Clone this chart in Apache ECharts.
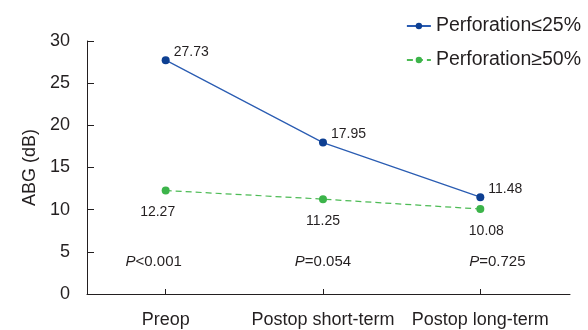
<!DOCTYPE html>
<html><head><meta charset="utf-8">
<script src="https://cdn.jsdelivr.net/npm/echarts@6/dist/echarts.min.js"></script>
<style>html,body{margin:0;padding:0;background:#fff}#c{width:588px;height:330px}</style>
</head><body><div id="c"></div>
<script>
const categories = ['Preop', 'Postop short-term', 'Postop long-term'];
const seriesNames = ['Perforation\u226425%', 'Perforation\u226550%'];
const small = [27.73, 17.95, 11.48];
const large = [12.27, 11.25, 10.08];
const pLabels = ['<0.001', '=0.054', '=0.725'];
const yTicks = [0, 5, 10, 15, 20, 25, 30];

const font = 'Liberation Sans, Arial, Helvetica, sans-serif';
const txt = '#231f20';
const chart = echarts.init(document.getElementById('c'));
const pOffsets = [-12, 0, 17];
const gOffsets = [-8, 0, 6];
chart.setOption({
  animation: false,
  textStyle: { fontFamily: font, color: txt },
  grid: { left: 87, right: 18, top: 41, bottom: 36 },
  legend: {
    orient: 'vertical', right: 2, top: 11, itemGap: 14,
    itemWidth: 24, itemHeight: 8,
    textStyle: { fontSize: 19.5, color: txt, fontFamily: font },
    data: seriesNames
  },
  xAxis: {
    type: 'value', min: -0.5, max: 2.57,
    splitLine: { show: false },
    axisLine: { onZero: false, lineStyle: { color: txt, width: 1 } },
    axisTick: { inside: true, length: 5, lineStyle: { color: txt }, customValues: [0, 1, 2] },
    axisLabel: { fontSize: 18, color: txt, margin: 17, customValues: [0, 1, 2],
      formatter: v => categories[Math.round(v)] || '' }
  },
  yAxis: {
    type: 'value', min: 0, max: 30, interval: 5,
    name: 'ABG (dB)', nameLocation: 'middle', nameGap: 46,
    nameTextStyle: { fontSize: 18, color: txt },
    splitLine: { show: false },
    axisLine: { show: true, onZero: false, lineStyle: { color: txt, width: 1 } },
    axisTick: { show: true, inside: true, length: 7, lineStyle: { color: txt } },
    axisLabel: { fontSize: 18, color: txt, margin: 17,
      formatter: v => yTicks.includes(v) ? String(v) : '' }
  },
  series: [
    {
      name: seriesNames[0], type: 'line',
      data: small.map((v, i) => [i, v]),
      symbol: 'circle', symbolSize: 8,
      itemStyle: { color: '#0d3f92' },
      lineStyle: { color: '#2a5cb2', width: 1.2 },
      label: { show: true, position: 'right', distance: 4, offset: [0, -8], fontSize: 14, color: txt,
        formatter: p => small[p.dataIndex].toFixed(2) }
    },
    {
      name: seriesNames[1], type: 'line',
      data: large.map((v, i) => ({ value: [i, v], label: { offset: [gOffsets[i], 0] } })),
      symbol: 'circle', symbolSize: 8,
      itemStyle: { color: '#3cb44a' },
      lineStyle: { color: '#4dbb55', width: 1.2, type: [6, 4] },
      label: { show: true, position: 'bottom', distance: 11, fontSize: 14, color: txt,
        formatter: p => large[p.dataIndex].toFixed(2) }
    },
    {
      type: 'scatter', symbolSize: 0, silent: true,
      itemStyle: { opacity: 1 },
      data: pLabels.map((s, i) => ({ value: [i, 3.8], label: { offset: [pOffsets[i], 0] } })),
      label: { show: true, position: 'inside', fontSize: 15, color: txt, opacity: 1,
        formatter: p => '{i|P}{n|' + pLabels[p.dataIndex] + '}',
        rich: { i: { fontStyle: 'italic', fontSize: 15, color: txt }, n: { fontSize: 15, color: txt } } }
    }
  ]
});
</script></body></html>
